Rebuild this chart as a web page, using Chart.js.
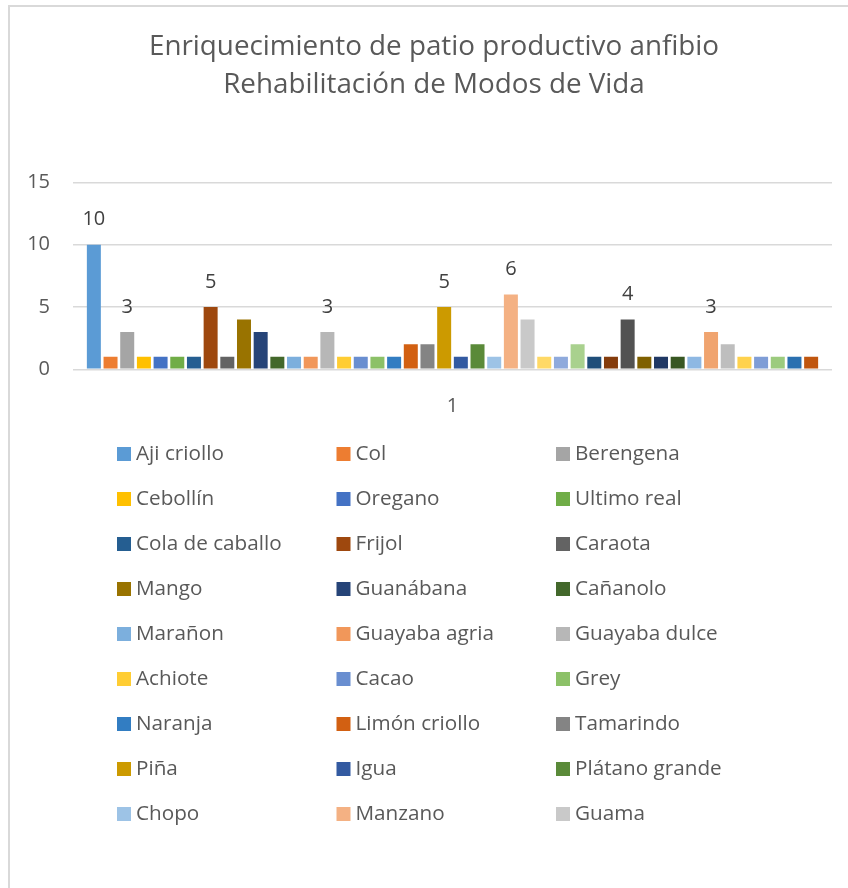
<!DOCTYPE html>
<html>
<head>
<meta charset="utf-8">
<title>Enriquecimiento de patio productivo anfibio</title>
<script src="https://cdn.jsdelivr.net/npm/chart.js@4.4.0/dist/chart.umd.min.js"></script>
<style>
  html, body { margin: 0; background: #fff; }
  #wrap { position: relative; width: 848px; height: 888px; overflow: hidden; }
  #frame { position: absolute; left: 8px; top: 5px; width: 900px; height: 900px;
           border-left: 2px solid #d9d9d9; border-top: 2px solid #d9d9d9; }
  #chart { position: absolute; left: 0; top: 0; }
</style>
</head>
<body>
<div id="wrap">
  <div id="frame"></div>
  <canvas id="chart" width="848" height="888"></canvas>
</div>
<script>
const categories = ['1'];

const species = [
  'Aji criollo', 'Col', 'Berengena',
  'Cebollín', 'Oregano', 'Ultimo real',
  'Cola de caballo', 'Frijol', 'Caraota',
  'Mango', 'Guanábana', 'Cañanolo',
  'Marañon', 'Guayaba agria', 'Guayaba dulce',
  'Achiote', 'Cacao', 'Grey',
  'Naranja', 'Limón criollo', 'Tamarindo',
  'Piña', 'Igua', 'Plátano grande',
  'Chopo', 'Manzano', 'Guama',
  'Serie 28', 'Serie 29', 'Serie 30', 'Serie 31', 'Serie 32', 'Serie 33',
  'Serie 34', 'Serie 35', 'Serie 36', 'Serie 37', 'Serie 38', 'Serie 39',
  'Serie 40', 'Serie 41', 'Serie 42', 'Serie 43', 'Serie 44'
];

const counts = [
  10, 1, 3, 1, 1, 1, 1, 5, 1, 4, 3, 1, 1, 1, 3, 1, 1, 1, 1, 2, 2, 5,
  1, 2, 1, 6, 4, 1, 1, 2, 1, 1, 4, 1, 1, 1, 1, 3, 2, 1, 1, 1, 1, 1
];

// series that carry a value label above the bar
const labeledSeries = [0, 2, 7, 14, 21, 25, 32, 37];

// only the first entries fit in the legend box
const legendCount = 27;

const yTicks = { min: 0, max: 15, step: 5 };

const palette = [
  '#5B9BD5', '#ED7D31', '#A5A5A5', '#FFC000', '#4472C4', '#70AD47',
  '#255E91', '#9E480E', '#636363', '#997300', '#264478', '#43682B',
  '#7CAFDD', '#F1975A', '#B7B7B7', '#FFCD33', '#698ED0', '#8CC168',
  '#327DC2', '#D26012', '#848484', '#CC9A00', '#335AA1', '#5A8A39',
  '#9DC3E6', '#F4B183', '#C9C9C9', '#FFD966', '#8FAADC', '#A9D18E',
  '#1F4E79', '#843C0C', '#525252', '#7F6000', '#203864', '#385723',
  '#8EB8E3', '#F0A46F', '#BEBEBE', '#FFD24D', '#7F9DD6', '#9CCB7E',
  '#2A70B0', '#C0560F'
];

const FONT = '"Open Sans", Lato, sans-serif';
const TEXT = '#595959';

// centre the title over the framed area rather than the whole canvas
const titleOffset = {
  id: 'titleOffset',
  afterLayout(chart) {
    chart.titleBlock.left = 36;
  }
};

const valueLabels = {
  id: 'valueLabels',
  afterDatasetsDraw(chart) {
    const ctx = chart.ctx;
    ctx.save();
    ctx.font = '20px ' + FONT;
    ctx.fillStyle = '#404040';
    ctx.textAlign = 'center';
    ctx.textBaseline = 'middle';
    labeledSeries.forEach(i => {
      const bar = chart.getDatasetMeta(i).data[0];
      ctx.fillText(String(chart.data.datasets[i].data[0]), bar.x, bar.y - 25);
    });
    ctx.restore();
  }
};

const gridLegend = {
  id: 'gridLegend',
  afterDraw(chart) {
    const ctx = chart.ctx;
    ctx.save();
    ctx.font = '20.7px ' + FONT;
    ctx.textBaseline = 'middle';
    ctx.textAlign = 'left';
    chart.data.datasets.slice(0, legendCount).forEach((ds, i) => {
      const x = 117 + (i % 3) * 219.5;
      const y = 454 + Math.floor(i / 3) * 45;
      ctx.fillStyle = ds.backgroundColor;
      ctx.fillRect(x, y - 7, 14, 14);
      ctx.fillStyle = TEXT;
      ctx.fillText(ds.label, x + 19, y);
    });
    ctx.restore();
  }
};

new Chart(document.getElementById('chart'), {
  type: 'bar',
  data: {
    labels: categories,
    datasets: species.map((name, i) => ({
      label: name,
      data: [counts[i]],
      backgroundColor: palette[i],
      borderWidth: 0,
      categoryPercentage: 0.967,
      barPercentage: 0.839
    }))
  },
  options: {
    responsive: false,
    animation: false,
    layout: { padding: { left: 0, right: 16, top: 0, bottom: 888 - 369.3 - 50 } },
    plugins: {
      legend: { display: false },
      tooltip: { enabled: false },
      title: {
        display: true,
        text: ['Enriquecimiento de patio productivo anfibio', 'Rehabilitación de Modos de Vida'],
        color: TEXT,
        font: { family: FONT, size: 27.8, weight: 'normal', lineHeight: 38 / 27.8 },
        padding: { top: 28, bottom: 78.3 }
      }
    },
    scales: {
      x: {
        grid: { display: false },
        border: { display: false },
        ticks: { color: TEXT, font: { family: FONT, size: 20 }, padding: 17 },
        afterFit: s => { s.height = 50; }
      },
      y: {
        min: yTicks.min,
        max: yTicks.max,
        border: { display: false },
        grid: { color: '#d9d9d9', lineWidth: 1.5, drawTicks: false },
        ticks: { stepSize: yTicks.step, color: TEXT, font: { family: FONT, size: 20 }, padding: 23 },
        afterFit: s => { s.width = 73; }
      }
    }
  },
  plugins: [titleOffset, valueLabels, gridLegend]
});
</script>
</body>
</html>
